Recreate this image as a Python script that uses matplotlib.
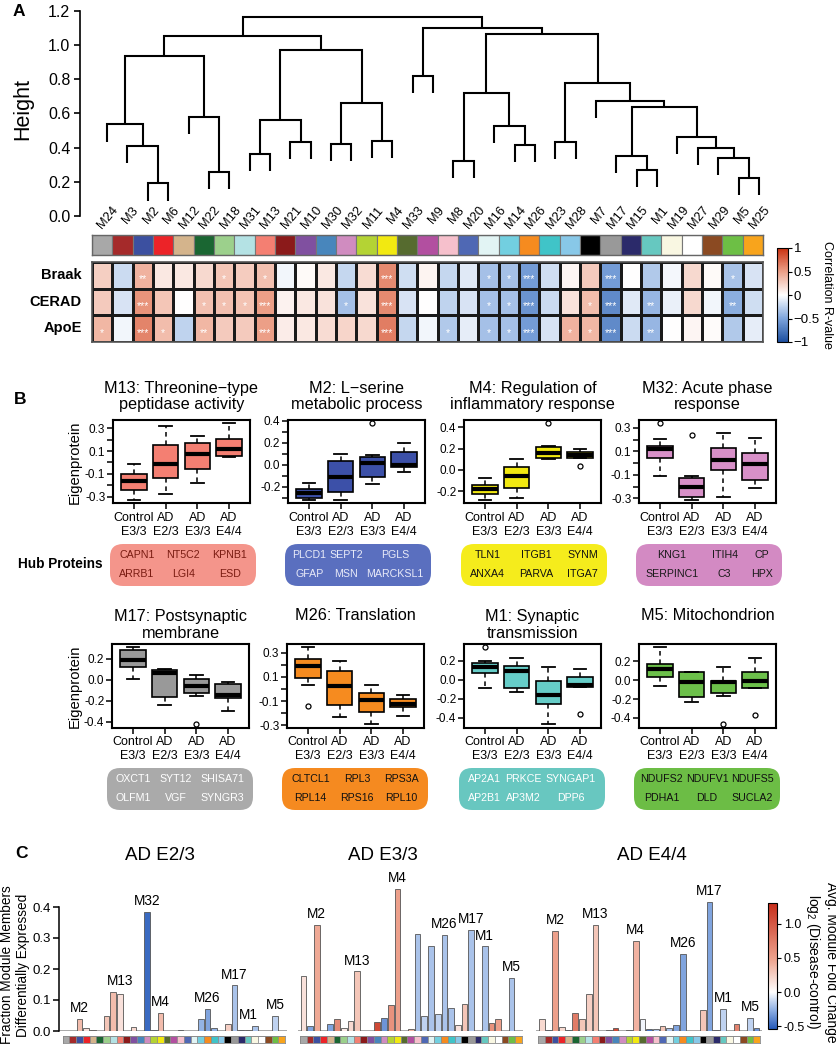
import numpy as np
import matplotlib
matplotlib.use("Agg")
import matplotlib.pyplot as plt
from matplotlib.colors import LinearSegmentedColormap, Normalize
from matplotlib.patches import FancyBboxPatch
from matplotlib.cm import ScalarMappable

plt.rcParams['font.family'] = ['Liberation Sans', 'DejaVu Sans']
plt.rcParams['axes.unicode_minus'] = False
plt.rcParams['mathtext.fontset'] = 'custom'
plt.rcParams['mathtext.rm'] = 'Liberation Sans'
plt.rcParams['mathtext.it'] = 'Liberation Sans:italic'
plt.rcParams['mathtext.bf'] = 'Liberation Sans:bold'

# ======================= DATA =======================
modules = ['M24', 'M3', 'M2', 'M6', 'M12', 'M22', 'M18', 'M31', 'M13', 'M21', 'M10',
           'M30', 'M32', 'M11', 'M4', 'M33', 'M9', 'M8', 'M20', 'M16', 'M14', 'M26',
           'M23', 'M28', 'M7', 'M17', 'M15', 'M1', 'M19', 'M27', 'M29', 'M5', 'M25']
module_colors = ['#a8a8a8', '#a52a2a', '#3c50a0', '#ec2328', '#d4b48c', '#1a6632', '#9cd08c',
                 '#b4e2e4', '#f47f72', '#8b1a1a', '#8050a0', '#4886bc', '#d08cc0', '#b4d334',
                 '#f2e911', '#566b2f', '#b24fa0', '#f6c0cc', '#4f68b4', '#e2f4f4', '#72cfe0',
                 '#f68b1f', '#40c4c8', '#88c8e8', '#000000', '#999999', '#2b2a6a', '#66c8c0',
                 '#f9f7e2', '#ffffff', '#8b4a22', '#6dbf45', '#f8a41c']

# dendrogram merges: (left child, right child, height); ints refer to earlier merges
merges = [
    ('M2', 'M6', 0.19), ('M3', 0, 0.41), ('M24', 1, 0.535), ('M22', 'M18', 0.255),
    ('M12', 3, 0.58), (2, 4, 0.935), ('M31', 'M13', 0.365), ('M21', 'M10', 0.435),
    (6, 7, 0.56), ('M30', 'M32', 0.42), ('M11', 'M4', 0.44), (9, 10, 0.66),
    (8, 11, 0.97), (5, 12, 1.05), ('M33', 'M9', 0.82), ('M8', 'M20', 0.32),
    ('M14', 'M26', 0.415), ('M16', 16, 0.525), (15, 17, 0.72), ('M23', 'M28', 0.435),
    ('M15', 'M1', 0.27), ('M17', 20, 0.35), ('M5', 'M25', 0.225), ('M29', 22, 0.34),
    ('M27', 23, 0.40), ('M19', 24, 0.46), (21, 25, 0.64), ('M7', 26, 0.675),
    (19, 27, 0.775), (18, 28, 1.065), (14, 29, 1.10), (13, 30, 1.165)]
hang = 0.1

traits = ['Braak', 'CERAD', 'ApoE']
braak_r = [0.25, -0.2, 0.4, 0.12, 0.12, 0.2, 0.3, 0.27, 0.33, -0.05, 0.03, 0.12, -0.22, 0.18,
           0.6, -0.18, 0.06, -0.22, -0.12, -0.35, -0.35, -0.55, -0.18, 0.05, 0.28, -0.55, 0.0,
           -0.3, -0.04, 0.2, 0.03, -0.33, -0.15]
cerad_r = [0.28, -0.15, 0.55, 0.3, 0.0, 0.33, 0.33, 0.32, 0.5, 0.07, 0.12, 0.15, -0.35, 0.15,
           0.6, -0.15, 0.0, -0.25, -0.15, -0.35, -0.35, -0.6, -0.2, 0.15, 0.35, -0.65, -0.12,
           -0.4, -0.08, 0.2, -0.05, -0.45, -0.18]
apoe_r = [0.38, -0.05, 0.62, 0.35, -0.25, 0.38, 0.28, 0.28, 0.5, 0.1, 0.12, 0.18, 0.22, 0.2,
          0.65, -0.22, -0.05, -0.3, -0.1, -0.35, -0.35, -0.55, -0.15, 0.4, 0.38, -0.65, -0.2,
          -0.4, 0.0, 0.05, 0.02, -0.3, -0.1]
braak_sig = {'M2': '**', 'M18': '*', 'M13': '*', 'M4': '***', 'M16': '*', 'M14': '*',
             'M26': '***', 'M17': '***', 'M5': '*'}
cerad_sig = {'M2': '***', 'M22': '*', 'M18': '*', 'M31': '*', 'M13': '***', 'M32': '*',
             'M4': '***', 'M16': '*', 'M14': '*', 'M26': '***', 'M7': '*', 'M17': '***',
             'M1': '**', 'M5': '**'}
apoe_sig = {'M24': '*', 'M2': '***', 'M6': '*', 'M22': '**', 'M13': '***', 'M4': '***',
            'M8': '*', 'M16': '*', 'M14': '*', 'M26': '***', 'M28': '*', 'M7': '*',
            'M17': '***', 'M1': '**'}

# Panel B
groups = ['Control\nE3/3', 'AD\nE2/3', 'AD\nE3/3', 'AD\nE4/4']
b_modules = ['M13', 'M2', 'M4', 'M32', 'M17', 'M26', 'M1', 'M5']
b_titles = ['M13: Threonine\u2212type\npeptidase activity', 'M2: L\u2212serine\nmetabolic process',
            'M4: Regulation of\ninflammatory response', 'M32: Acute phase\nresponse',
            'M17: Postsynaptic\nmembrane', 'M26: Translation', 'M1: Synaptic\ntransmission',
            'M5: Mitochondrion']
# per group: [lower whisker, Q1, median, Q3, upper whisker]
m13_box = [[-0.33, -0.243, -0.161, -0.103, -0.016], [-0.277, -0.135, -0.016, 0.149, 0.314],
           [-0.176, -0.06, 0.074, 0.172, 0.227], [0.048, 0.056, 0.12, 0.207, 0.343]]
m13_out = [[], [], [], []]
m2_box = [[-0.32, -0.306, -0.261, -0.218, -0.167], [-0.325, -0.245, -0.113, 0.033, 0.10],
          [-0.179, -0.109, 0.02, 0.075, 0.085], [-0.067, -0.02, -0.005, 0.118, 0.2]]
m2_out = [[], [], [0.38], []]
m4_box = [[-0.285, -0.222, -0.181, -0.144, -0.078], [-0.266, -0.172, -0.056, 0.028, 0.10],
          [0.10, 0.116, 0.163, 0.21, 0.225], [0.116, 0.116, 0.144, 0.169, 0.2]]
m4_out = [[], [], [0.438], [0.04]]
m32_box = [[-0.113, 0.043, 0.119, 0.147, 0.209], [-0.317, -0.288, -0.203, -0.127, -0.107],
           [-0.286, -0.056, 0.026, 0.13, 0.26], [-0.212, -0.144, -0.008, 0.09, 0.212]]
m32_out = [[0.34], [0.238], [], []]
m17_box = [[0.01, 0.119, 0.187, 0.28, 0.312], [-0.242, -0.164, 0.064, 0.093, 0.106],
           [-0.151, -0.122, -0.058, 0.006, 0.048], [-0.296, -0.177, -0.145, -0.036, -0.023]]
m17_out = [[], [], [-0.425], []]
m26_box = [[0.03, 0.09, 0.19, 0.25, 0.346], [-0.231, -0.129, 0.022, 0.146, 0.23],
           [-0.292, -0.19, -0.094, -0.033, 0.03], [-0.223, -0.149, -0.121, -0.085, -0.047]]
m26_out = [[-0.143], [], [], []]
m1_box = [[-0.082, 0.067, 0.131, 0.174, 0.195], [-0.124, -0.089, 0.089, 0.149, 0.23],
          [-0.468, -0.255, -0.16, -0.01, 0.131], [-0.071, -0.071, -0.053, 0.025, 0.117]]
m1_out = [[0.344], [], [], [-0.362]]
m5_box = [[-0.064, 0.032, 0.117, 0.174, 0.348], [-0.23, -0.177, -0.025, 0.089, 0.089],
          [-0.17, -0.135, -0.025, -0.01, 0.142], [-0.082, -0.082, -0.011, 0.089, 0.23]]
m5_out = [[], [], [-0.468], [-0.372]]
b_ylabels = [[-0.3, -0.1, 0.1, 0.3], [-0.2, 0.0, 0.2, 0.4], [-0.2, 0.0, 0.2, 0.4],
             [-0.3, -0.1, 0.1, 0.3], [-0.4, -0.2, 0.0, 0.2], [-0.3, -0.1, 0.1, 0.3],
             [-0.4, -0.2, 0.0, 0.2], [-0.4, -0.2, 0.0, 0.2]]
b_minor = [True, True, False, True, False, True, False, False]
b_fill = ['#f47f72', '#3c50a8', '#f2e911', '#d890c8', '#999999', '#f68b1f', '#66cdc8', '#6cc04a']
hub_fill = ['#f4958b', '#5a6fbf', '#f5ec1c', '#d38ac3', '#aaaaaa', '#f58a20', '#68c7c0', '#6cbd45']
hub_text = ['#7a1c12', '#e8eaf8', '#111111', '#1a1a1a', '#ffffff', '#111111', '#ffffff', '#111111']
hub_proteins = [
    [['CAPN1', 'NT5C2', 'KPNB1'], ['ARRB1', 'LGI4', 'ESD']],
    [['PLCD1', 'SEPT2', 'PGLS'], ['GFAP', 'MSN', 'MARCKSL1']],
    [['TLN1', 'ITGB1', 'SYNM'], ['ANXA4', 'PARVA', 'ITGA7']],
    [['KNG1', 'ITIH4', 'CP'], ['SERPINC1', 'C3', 'HPX']],
    [['OXCT1', 'SYT12', 'SHISA71'], ['OLFM1', 'VGF', 'SYNGR3']],
    [['CLTCL1', 'RPL3', 'RPS3A'], ['RPL14', 'RPS16', 'RPL10']],
    [['AP2A1', 'PRKCE', 'SYNGAP1'], ['AP2B1', 'AP3M2', 'DPP6']],
    [['NDUFS2', 'NDUFV1', 'NDUFS5'], ['PDHA1', 'DLD', 'SUCLA2']]]

# Panel C (values in module order)
c_titles = ['AD E2/3', 'AD E3/3', 'AD E4/4']
frac_e23 = [0, 0, 0.038, 0.010, 0.003, 0, 0.049, 0.127, 0.118, 0, 0.012, 0, 0.385, 0.003,
            0.058, 0, 0, 0.004, 0, 0, 0.038, 0.072, 0.010, 0, 0.023, 0.147, 0.003, 0.004,
            0.016, 0, 0, 0.049, 0]
fc_e23 = [0, 0, 0.35, 0.15, 0.1, 0, 0.3, 0.35, 0.15, 0, 0.2, 0, -0.48, -0.25, 0.35, 0, 0,
          -0.15, 0, 0, -0.25, -0.3, -0.25, 0, 0.25, -0.2, -0.2, 0.02, -0.2, 0, 0, -0.15, 0]
frac_e33 = [0.176, 0.017, 0.343, 0, 0.023, 0.038, 0.011, 0.033, 0.192, 0, 0, 0.029, 0.043,
            0.083, 0.458, 0, 0.005, 0.312, 0.048, 0.275, 0.056, 0.31, 0.075, 0.02, 0.086,
            0.325, 0, 0.273, 0.026, 0.04, 0, 0.172, 0]
fc_e33 = [0.15, -0.3, 0.45, 0, -0.3, 0.65, 0.1, 0.2, 0.3, 0, 0, 1.1, -0.35, 0.6, 0.5, 0, 0.4,
          -0.2, -0.15, -0.2, -0.15, -0.2, -0.2, 0.15, 0.3, -0.2, 0, -0.2, 0.6, 0.5, 0, -0.2, 0]
frac_e44 = [0.04, 0.002, 0.323, 0.013, 0.003, 0.058, 0.04, 0.118, 0.341, 0, 0.003, 0.011, 0,
            0.003, 0.29, 0.038, 0.005, 0.008, 0.016, 0.011, 0.018, 0.25, 0, 0, 0.067, 0.416,
            0.003, 0.072, 0, 0.022, 0, 0.041, 0.01]
fc_e44 = [0.2, -0.3, 0.5, 0.2, -0.3, 0.75, 0.3, 0.25, 0.3, 0, 0.2, 1.1, 0, 0.2, 0.4, -0.03,
          -0.45, -0.2, 0.3, -0.2, -0.3, -0.3, 0, 0, 0.3, -0.3, -0.2, -0.15, 0, 0.7, 0, -0.15,
          -0.35]
c_labels = [['M2', 'M13', 'M32', 'M4', 'M26', 'M17', 'M1', 'M5'],
            ['M2', 'M13', 'M4', 'M26', 'M17', 'M1', 'M5'],
            ['M2', 'M13', 'M4', 'M26', 'M17', 'M1', 'M5']]

# ======================= FIGURE =======================
W, H = 836, 1046
fig = plt.figure(figsize=(W / 100, H / 100), dpi=100)
fig.patch.set_facecolor('white')
renderer = fig.canvas.get_renderer()


def px_axes(x0, y0, x1, y1, **kw):
    return fig.add_axes([x0 / W, 1 - y1 / H, (x1 - x0) / W, (y1 - y0) / H], **kw)


ov = fig.add_axes([0, 0, 1, 1], zorder=-5)
ov.set_xlim(0, W)
ov.set_ylim(H, 0)
ov.axis('off')

# panel letters
for lab, (x, y) in zip('ABC', [(19, 11), (20, 400), (22, 853)]):
    ov.text(x, y, lab, fontsize=12.5, fontweight='bold', ha='center', va='center')

# ---------------- Panel A: dendrogram ----------------
L0, L1 = 107, 759
step = (L1 - L0) / 32
axd = px_axes(80, 10.7, 770, 216)
axd.set_xlim(-(L0 - 80) / step, 32 + (770 - L1) / step)
axd.set_ylim(0, 1.2)
leaf_x = {m: i for i, m in enumerate(modules)}
node_x, node_h = [], []


def child(c):
    if isinstance(c, str):
        return leaf_x[c], None
    return node_x[c], node_h[c]


for a, b, h in merges:
    xa, ha = child(a)
    xb, hb = child(b)
    ya = ha if ha is not None else h - hang
    yb = hb if hb is not None else h - hang
    axd.plot([xa, xa, xb, xb], [ya, h, h, yb], color='black', lw=1.5,
             solid_joinstyle='miter', solid_capstyle='butt')
    node_x.append((xa + xb) / 2)
    node_h.append(h)

for s in ['top', 'right', 'bottom']:
    axd.spines[s].set_visible(False)
axd.spines['left'].set_bounds(0, 1.2)
axd.spines['left'].set_linewidth(1.2)
yt = np.round(np.arange(0, 1.21, 0.2), 1)
axd.set_yticks(yt)
axd.set_yticklabels(['%.1f' % v for v in yt])
axd.tick_params(axis='y', length=4, width=1.2, labelsize=11.5, pad=3)
axd.set_xticks([])
axd.patch.set_alpha(0)
for i, m in enumerate(modules):
    axd.text(i + 0.45, 0.045, m, rotation=50, ha='right', va='center',
             rotation_mode='anchor', fontsize=9.3, clip_on=False)
ov.text(23, 109, 'Height', rotation=90, fontsize=15.5, ha='center', va='center')

# color strip
axs = px_axes(92, 235, 763, 255)
axs.bar(np.arange(33), 1, width=1, color=module_colors, edgecolor='#777777', lw=0.8)
axs.set_xlim(-0.5, 32.5)
axs.set_ylim(0, 1)
axs.set_xticks([])
axs.set_yticks([])
for s in axs.spines.values():
    s.set_color('#666666')
    s.set_linewidth(1.0)

# heatmap
cmap_corr = LinearSegmentedColormap.from_list(
    'corr', [(0, '#1d4f9f'), (0.25, '#7ea5dc'), (0.5, '#ffffff'), (0.75, '#eca088'), (1, '#c9300f')])
norm_corr = Normalize(-1, 1)
axh = px_axes(92, 262, 763, 342)
hm = np.array([braak_r, cerad_r, apoe_r])
axh.pcolormesh(np.arange(34) - 0.5, np.arange(4) - 0.5, hm, cmap=cmap_corr, norm=norm_corr,
               edgecolors='#1a1a1a', linewidth=0.8)
axh.set_xlim(-0.5, 32.5)
axh.set_ylim(2.5, -0.5)
axh.set_xticks([])
axh.set_yticks([])
for s in axh.spines.values():
    s.set_color('#555555')
    s.set_linewidth(1.2)
for r, sig in enumerate([braak_sig, cerad_sig, apoe_sig]):
    for m, st in sig.items():
        axh.text(leaf_x[m], r + 0.15, st, color='white', fontsize=7.5, ha='center', va='center')
for r, t in enumerate(traits):
    ov.text(82, 275 + r * 26.7, t, fontsize=10.5, fontweight='bold', ha='right', va='center')

cax = px_axes(777, 248, 788, 342)
cb = fig.colorbar(ScalarMappable(norm=norm_corr, cmap=cmap_corr), cax=cax)
cb.set_ticks([-1, -0.5, 0, 0.5, 1])
cb.set_ticklabels(['\u22121', '\u22120.5', '0', '0.5', '1'])
cb.outline.set_linewidth(0.8)
cax.tick_params(labelsize=9.5, length=3, width=0.8, pad=1)
ov.text(827, 295, 'Correlation R-value', rotation=270, fontsize=9, ha='center', va='center')

# ---------------- Panel B ----------------
box_data = {'M13': (m13_box, m13_out), 'M2': (m2_box, m2_out), 'M4': (m4_box, m4_out),
            'M32': (m32_box, m32_out), 'M17': (m17_box, m17_out), 'M26': (m26_box, m26_out),
            'M1': (m1_box, m1_out), 'M5': (m5_box, m5_out)}
row_lefts = [[113, 288, 464, 639], [112, 287, 464, 639]]
row_y = [(420, 503.5), (644, 727.5)]
title_line1 = [386.5, 615]
hub_y = [(544, 586), (768, 810)]
hub_dx = [-3, -5]
hub_w = 146
for k, m in enumerate(b_modules):
    r, c = divmod(k, 4)
    x0 = row_lefts[r][c]
    y0, y1 = row_y[r]
    ax = px_axes(x0, y0, x0 + 137, y1)
    bx, out = box_data[m]
    stats = [dict(whislo=s[0], q1=s[1], med=s[2], q3=s[3], whishi=s[4], fliers=o)
             for s, o in zip(bx, out)]
    ax.bxp(stats, positions=[1, 2, 3, 4], widths=0.8, patch_artist=True, manage_ticks=False,
           capwidths=0.4,
           boxprops=dict(facecolor=b_fill[k], edgecolor='black', linewidth=1.2),
           medianprops=dict(color='black', linewidth=3.0, solid_capstyle='butt'),
           whiskerprops=dict(color='black', linewidth=1.1, linestyle=(0, (3, 2.5))),
           capprops=dict(color='black', linewidth=1.3),
           flierprops=dict(marker='o', markerfacecolor='none', markeredgecolor='black',
                           markersize=3.6, markeredgewidth=0.9))
    allv = [v for s in bx for v in s] + [v for o in out for v in o]
    lo, hi = min(allv), max(allv)
    pad = 0.04 * (hi - lo)
    ax.set_xlim(0.34, 4.66)
    ax.set_xticks([1, 2, 3, 4])
    ax.set_xticklabels(groups)
    ax.set_yticks(b_ylabels[k])
    ax.set_yticklabels(['%.1f' % v for v in b_ylabels[k]])
    if b_minor[k]:
        ax.set_yticks([v + 0.1 for v in b_ylabels[k]] + [b_ylabels[k][0] - 0.1], minor=True)
    ax.set_ylim(lo - pad, hi + pad)
    ax.tick_params(axis='y', which='both', length=4, width=1.1, labelsize=8.5, pad=1.5)
    ax.tick_params(axis='x', length=4, width=1.1, labelsize=9, pad=2)
    for s in ax.spines.values():
        s.set_linewidth(1.5)
    cx = x0 + 68.5
    t = b_titles[k]
    ty = title_line1[r] + (10 if '\n' in t else 0)
    ov.text(cx, ty, t, fontsize=11.7, ha='center', va='center', linespacing=1.15)
    if c == 0:
        ov.text(75, (y0 + y1) / 2, 'Eigenprotein', rotation=90, fontsize=10.6,
                ha='center', va='center')
    # hub proteins box: three columns, each text centred in its column
    hx = x0 + hub_dx[r]
    hy0, hy1 = hub_y[r]
    ov.add_patch(FancyBboxPatch((hx, hy0), hub_w, hy1 - hy0,
                                boxstyle='round,pad=0,rounding_size=13',
                                facecolor=hub_fill[k], edgecolor='none'))
    rows_t = []
    for rr, names in enumerate(hub_proteins[k]):
        tys = hy0 + 11.5 + rr * 18.5
        rows_t.append([ov.text(0, tys, nm, fontsize=7.7, color=hub_text[k], ha='center',
                               va='center') for nm in names])
    colw = [max(rows_t[0][j].get_window_extent(renderer).width,
                rows_t[1][j].get_window_extent(renderer).width) for j in range(3)]
    margin = 9
    gap = max((hub_w - 2 * margin - sum(colw)) / 2, 3)
    total = sum(colw) + 2 * gap
    xpos = hx + (hub_w - total) / 2
    for j in range(3):
        for rr in range(2):
            rows_t[rr][j].set_x(xpos + colw[j] / 2)
        xpos += colw[j] + gap
ov.text(60, 564, 'Hub Proteins', fontsize=9.8, fontweight='bold', ha='center', va='center')

# ---------------- Panel C ----------------
cmap_fc = LinearSegmentedColormap.from_list(
    'fc', [(0, '#2458b8'), (0.15, '#8fb0e4'), (0.293, '#ffffff'), (0.55, '#eea48f'),
           (1, '#c62d1a')])
norm_fc = Normalize(-0.54, 1.3)
strip_x = [(62.7, 285), (300, 521.7), (538.3, 760)]
ax_x = [(59, 286.5), (298, 523), (536, 762)]
base_y, top_y = 1031, 880
scale = 310.0
title_cx = [160, 383, 652]
fracs = [frac_e23, frac_e33, frac_e44]
fcs = [fc_e23, fc_e33, fc_e44]
for p in range(3):
    sx0, sx1 = strip_x[p]
    stepc = (sx1 - sx0) / 33
    a0, a1 = ax_x[p]
    ax = px_axes(a0, top_y, a1, base_y)
    ax.set_xlim(-0.5 - (sx0 - a0) / stepc, 32.5 + (a1 - sx1) / stepc)
    ax.set_ylim(0, (base_y - top_y) / scale)
    fr = np.array(fracs[p])
    fc = np.array(fcs[p])
    idx = np.nonzero(fr > 0)[0]
    ax.axhline(0, color='#9a9a9a', lw=1.2, zorder=1)
    ax.bar(idx, fr[idx], width=0.85, color=cmap_fc(norm_fc(fc[idx])), edgecolor='#555555',
           lw=0.6, zorder=2)
    for m in c_labels[p]:
        i = leaf_x[m]
        hh = max(fr[max(i - 1, 0):i + 2])
        ax.text(i, hh + 0.035, m, fontsize=9.8, ha='center', va='center', clip_on=False)
    for s in ['top', 'right', 'bottom']:
        ax.spines[s].set_visible(False)
    ax.set_xticks([])
    ax.patch.set_alpha(0)
    if p == 0:
        ax.spines['left'].set_bounds(0, 0.4)
        ax.spines['left'].set_linewidth(1.1)
        ax.set_yticks([0, 0.1, 0.2, 0.3, 0.4])
        ax.set_yticklabels(['0.0', '0.1', '0.2', '0.3', '0.4'])
        ax.tick_params(axis='y', length=4, width=1.1, labelsize=9.5, pad=2)
    else:
        ax.spines['left'].set_visible(False)
        ax.set_yticks([])
    # strip
    axc = px_axes(sx0, 1036, sx1, 1043)
    axc.bar(np.arange(33), 1, width=1, color=module_colors, edgecolor='#888888', lw=0.5)
    axc.set_xlim(-0.5, 32.5)
    axc.set_ylim(0, 1)
    axc.set_xticks([])
    axc.set_yticks([])
    for s in axc.spines.values():
        s.set_color('#888888')
        s.set_linewidth(0.6)
    ov.text(title_cx[p], 855, c_titles[p], fontsize=13.5, ha='center', va='center')

ov.text(15, 965, 'Fraction Module Members\nDifferentially Expressed', rotation=90,
        fontsize=9.8, ha='center', va='center', linespacing=1.15)
cax2 = px_axes(768, 903, 777, 1029)
cb2 = fig.colorbar(ScalarMappable(norm=norm_fc, cmap=cmap_fc), cax=cax2)
cb2.set_ticks([-0.5, 0, 0.5, 1.0])
cb2.set_ticklabels(['-0.5', '0.0', '0.5', '1.0'])
cb2.outline.set_linewidth(0.8)
cax2.tick_params(labelsize=9, length=3, width=0.8, pad=2)
ov.text(821, 962, 'Avg. Module Fold Change\nlog$_2$ (Disease-control)', rotation=270,
        fontsize=10, ha='center', va='center', linespacing=1.1)

fig.savefig('out.png', dpi=100, facecolor='white')
